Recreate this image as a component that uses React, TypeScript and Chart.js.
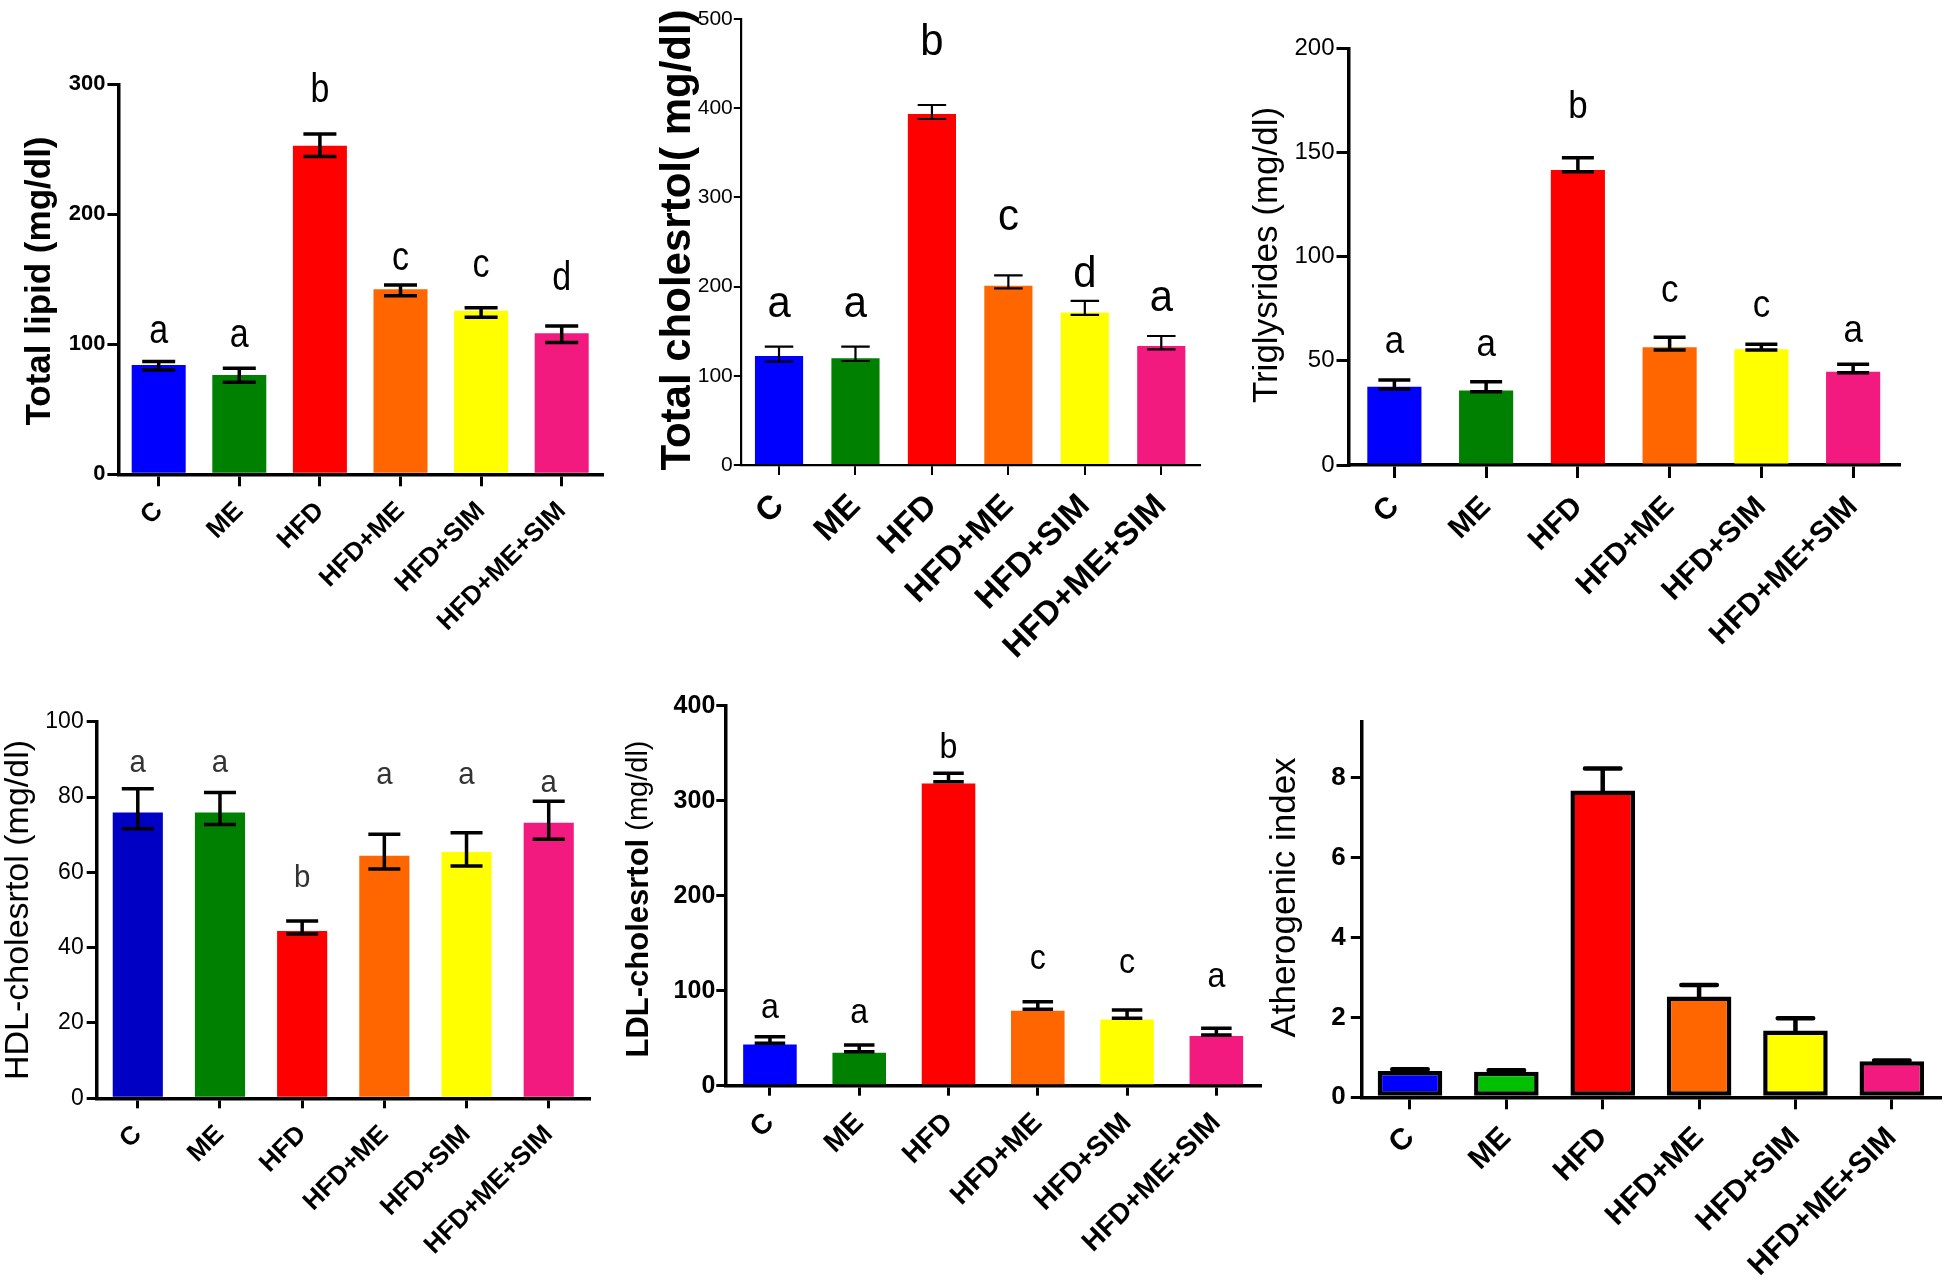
import React, { useEffect, useRef } from 'react';
import { Chart, registerables } from 'chart.js';

Chart.register(...registerables);

// ---------------- DATA ----------------
const groups = ['C', 'ME', 'HFD', 'HFD+ME', 'HFD+SIM', 'HFD+ME+SIM'];

// Total lipid (mg/dl)
const lipidMean = [84.1, 76.4, 252.8, 142.3, 125.9, 108.5];
const lipidHi = [86.7, 81.5, 261.8, 145.6, 128.2, 114.1];
const lipidLo = [80.3, 70.8, 244.4, 137.4, 120.8, 101.3];
const lipidLetters = ['a', 'a', 'b', 'c', 'c', 'd'];
const lipidLetterAt = [100.8, 98.2, 286.7, 157, 152, 141.8];

// Total cholesterol (mg/dl)
const cholMean = [122.2, 119.6, 393.5, 201, 171.1, 133.4];
const cholHi = [132.7, 132.7, 403.6, 212.6, 183.9, 144.6];
const cholLo = [115.8, 116.6, 387.9, 198.1, 168.2, 129.7];
const cholLetters = ['a', 'a', 'b', 'c', 'd', 'a'];
const cholLetterAt = [166.3, 166.3, 459.6, 263.5, 199.2, 173];

// Triglycerides (mg/dl)
const tgMean = [37.6, 35.7, 141.6, 56.5, 55.5, 44.8];
const tgHi = [40.8, 40, 147.5, 61.3, 58, 48.3];
const tgLo = [36.5, 35.2, 140.8, 55.2, 55.2, 44.3];
const tgLetters = ['a', 'a', 'b', 'c', 'c', 'a'];
const tgLetterAt = [53.6, 52.3, 166.4, 78.4, 71.2, 59.2];

// HDL-cholesterol (mg/dl)
const hdlMean = [75.9, 75.9, 44.4, 64.4, 65.4, 73.2];
const hdlHi = [82.2, 81.2, 47.1, 70.1, 70.5, 78.9];
const hdlLo = [71.6, 72.7, 43.6, 60.9, 61.7, 68.8];
const hdlLetters = ['a', 'a', 'b', 'a', 'a', 'a'];
const hdlLetterAt = [86.7, 86.7, 56.2, 83.4, 83.4, 81.4];

// LDL-cholesterol (mg/dl)
const ldlMean = [43.5, 34.7, 318.2, 78.9, 69.8, 52.3];
const ldlHi = [51.6, 42.8, 328.8, 88.4, 79.6, 60.4];
const ldlLo = [44.6, 35.8, 320, 80.4, 70.9, 53.3];
const ldlLetters = ['a', 'a', 'b', 'c', 'c', 'a'];
const ldlLetterAt = [70.9, 65.6, 344.6, 122.5, 118.2, 104.2];

// Atherogenic index
const aiMean = [0.66, 0.64, 7.68, 2.52, 1.67, 0.9];
const aiHi = [0.7, 0.68, 8.23, 2.81, 1.98, 0.92];

// ---------------- STYLE ----------------
const FONT = "'Liberation Sans', Arial, Helvetica, sans-serif";
const BLUE = '#0000FF';
const GREEN = '#008000';
const RED = '#FF0000';
const ORANGE = '#FF6600';
const YELLOW = '#FFFF00';
const PINK = '#F2197F';
const baseColors = [BLUE, GREEN, RED, ORANGE, YELLOW, PINK];

type Run = { text: string; weight: string; size: number };

type PanelCfg = {
  key: string;
  canvas: { left: number; top: number; width: number; height: number };
  area: { left: number; top: number; right: number; bottom: number };
  yMax: number;
  yStep: number;
  includeBounds: boolean;
  values: number[];
  hi: number[];
  lo: number[];
  letters: string[] | null;
  letterAt: number[] | null;
  letterSize: number;
  letterScaleX: number;
  letterColor: string;
  colors: string[];
  barPct: number;
  barBorder: number;
  axisWidth: number;
  tickWidth: number;
  yTickLen: number;
  yTickPad: number;
  xTickLen: number;
  xTickPad: number;
  yFont: { size: number; weight: string };
  xFont: { size: number; weight: string };
  errWidth: number;
  capWidth: number;
  capRound: boolean;
  oneSided: boolean;
  title: { runs: Run[]; x: number; y: number };
};

const panels: PanelCfg[] = [
  {
    key: 'lipid',
    canvas: { left: 0, top: 0, width: 640, height: 665 },
    area: { left: 118.4, top: 84.3, right: 602, bottom: 474.3 },
    yMax: 300, yStep: 100, includeBounds: true,
    values: lipidMean, hi: lipidHi, lo: lipidLo,
    letters: lipidLetters, letterAt: lipidLetterAt, letterSize: 40, letterScaleX: 0.85, letterColor: '#000',
    colors: baseColors, barPct: 0.67, barBorder: 0,
    axisWidth: 3.5, tickWidth: 3, yTickLen: 11, yTickPad: 2, xTickLen: 12, xTickPad: 9.5,
    yFont: { size: 22, weight: 'bold' }, xFont: { size: 26, weight: 'bold' },
    errWidth: 3.5, capWidth: 33, capRound: false, oneSided: false,
    title: { runs: [{ text: 'Total lipid (mg/dl)', weight: 'bold', size: 35 }], x: 40, y: 281 },
  },
  {
    key: 'chol',
    canvas: { left: 640, top: 0, width: 612, height: 680 },
    area: { left: 740.8, top: 19, right: 1199.5, bottom: 465 },
    yMax: 500, yStep: 100, includeBounds: true,
    values: cholMean, hi: cholHi, lo: cholLo,
    letters: cholLetters, letterAt: cholLetterAt, letterSize: 44, letterScaleX: 0.95, letterColor: '#000',
    colors: baseColors, barPct: 0.63, barBorder: 0,
    axisWidth: 2.2, tickWidth: 2, yTickLen: 7, yTickPad: 1, xTickLen: 10, xTickPad: 12,
    yFont: { size: 21, weight: 'normal' }, xFont: { size: 33, weight: 'bold' },
    errWidth: 2.2, capWidth: 28.5, capRound: false, oneSided: false,
    title: { runs: [{ text: 'Total cholesrtol( mg/dl)', weight: 'bold', size: 42 }], x: 678, y: 240 },
  },
  {
    key: 'tg',
    canvas: { left: 1252, top: 0, width: 694, height: 680 },
    area: { left: 1348.5, top: 48.3, right: 1899, bottom: 465 },
    yMax: 200, yStep: 50, includeBounds: true,
    values: tgMean, hi: tgHi, lo: tgLo,
    letters: tgLetters, letterAt: tgLetterAt, letterSize: 38, letterScaleX: 0.92, letterColor: '#000',
    colors: baseColors, barPct: 0.59, barBorder: 0,
    axisWidth: 3.5, tickWidth: 3, yTickLen: 12, yTickPad: 2, xTickLen: 13, xTickPad: 11.5,
    yFont: { size: 24, weight: 'normal' }, xFont: { size: 30, weight: 'bold' },
    errWidth: 3.5, capWidth: 32, capRound: false, oneSided: false,
    title: { runs: [{ text: 'Triglysrides (mg/dl)', weight: 'normal', size: 35 }], x: 1267, y: 255 },
  },
  {
    key: 'hdl',
    canvas: { left: 0, top: 680, width: 620, height: 601 },
    area: { left: 96.7, top: 721.7, right: 589.8, bottom: 1098.3 },
    yMax: 100, yStep: 20, includeBounds: true,
    values: hdlMean, hi: hdlHi, lo: hdlLo,
    letters: hdlLetters, letterAt: hdlLetterAt, letterSize: 32, letterScaleX: 0.92, letterColor: '#333',
    colors: ['#0000C4', GREEN, RED, ORANGE, YELLOW, PINK], barPct: 0.61, barBorder: 0,
    axisWidth: 3.5, tickWidth: 3, yTickLen: 10, yTickPad: 3, xTickLen: 10, xTickPad: 11,
    yFont: { size: 23, weight: 'normal' }, xFont: { size: 26, weight: 'bold' },
    errWidth: 3.5, capWidth: 32, capRound: false, oneSided: false,
    title: { runs: [{ text: 'HDL-cholesrtol (mg/dl)', weight: 'normal', size: 34 }], x: 19, y: 910 },
  },
  {
    key: 'ldl',
    canvas: { left: 620, top: 680, width: 642, height: 601 },
    area: { left: 725.3, top: 705.7, right: 1261, bottom: 1085.7 },
    yMax: 400, yStep: 100, includeBounds: true,
    values: ldlMean, hi: ldlHi, lo: ldlLo,
    letters: ldlLetters, letterAt: ldlLetterAt, letterSize: 35, letterScaleX: 0.92, letterColor: '#000',
    colors: baseColors, barPct: 0.6, barBorder: 0,
    axisWidth: 3.5, tickWidth: 3, yTickLen: 9, yTickPad: 1, xTickLen: 10, xTickPad: 11,
    yFont: { size: 25, weight: 'bold' }, xFont: { size: 28, weight: 'bold' },
    errWidth: 3.5, capWidth: 30.5, capRound: false, oneSided: false,
    title: {
      runs: [
        { text: 'LDL-cholesrtol', weight: 'bold', size: 31 },
        { text: ' (mg/dl)', weight: 'normal', size: 29 },
      ],
      x: 639, y: 899,
    },
  },
  {
    key: 'ai',
    canvas: { left: 1262, top: 680, width: 684, height: 601 },
    area: { left: 1361.8, top: 721.7, right: 1940, bottom: 1097.3 },
    yMax: 9.4, yStep: 2, includeBounds: false,
    values: aiMean, hi: aiHi, lo: aiMean,
    letters: null, letterAt: null, letterSize: 30, letterScaleX: 1, letterColor: '#000',
    colors: [BLUE, '#00C000', RED, ORANGE, YELLOW, PINK], barPct: 0.67, barBorder: 4.5,
    axisWidth: 3.5, tickWidth: 3, yTickLen: 11, yTickPad: 5, xTickLen: 12, xTickPad: 11,
    yFont: { size: 26, weight: 'bold' }, xFont: { size: 30, weight: 'bold' },
    errWidth: 4.5, capWidth: 35.5, capRound: true, oneSided: true,
    title: { runs: [{ text: 'Atherogenic index', weight: 'normal', size: 35 }], x: 1285, y: 897.5 },
  },
];

function extrasPlugin(p: PanelCfg) {
  return {
    id: 'extras_' + p.key,
    afterDatasetsDraw(chart: any) {
      const ctx = chart.ctx;
      const ys = chart.scales.y;
      const meta = chart.getDatasetMeta(0);
      ctx.save();
      ctx.strokeStyle = '#000';
      ctx.lineWidth = p.errWidth;
      ctx.lineCap = p.capRound ? 'round' : 'butt';
      meta.data.forEach((el: any, i: number) => {
        const x = el.x;
        const yh = ys.getPixelForValue(p.hi[i]);
        const yl = ys.getPixelForValue(p.lo[i]);
        const hw = p.capWidth / 2;
        ctx.beginPath();
        ctx.moveTo(x, yl);
        ctx.lineTo(x, yh);
        ctx.moveTo(x - hw, yh);
        ctx.lineTo(x + hw, yh);
        if (!p.oneSided) {
          ctx.moveTo(x - hw, yl);
          ctx.lineTo(x + hw, yl);
        }
        ctx.stroke();
      });
      ctx.restore();
    },
    afterDraw(chart: any) {
      const ctx = chart.ctx;
      const ys = chart.scales.y;
      const meta = chart.getDatasetMeta(0);
      ctx.save();
      if (p.letters && p.letterAt) {
        ctx.fillStyle = p.letterColor;
        ctx.font = `normal ${p.letterSize}px ${FONT}`;
        ctx.textAlign = 'center';
        ctx.textBaseline = 'alphabetic';
        meta.data.forEach((el: any, i: number) => {
          ctx.save();
          ctx.translate(el.x, ys.getPixelForValue(p.letterAt![i]));
          ctx.scale(p.letterScaleX, 1);
          ctx.fillText(p.letters![i], 0, 0);
          ctx.restore();
        });
      }
      // rotated y-axis title
      const runs = p.title.runs;
      let total = 0;
      const widths = runs.map((r) => {
        ctx.font = `${r.weight} ${r.size}px ${FONT}`;
        const w = ctx.measureText(r.text).width;
        total += w;
        return w;
      });
      ctx.translate(p.title.x - p.canvas.left, p.title.y - p.canvas.top);
      ctx.rotate(-Math.PI / 2);
      ctx.fillStyle = '#000';
      ctx.textAlign = 'left';
      ctx.textBaseline = 'middle';
      let cx = -total / 2;
      runs.forEach((r, i) => {
        ctx.font = `${r.weight} ${r.size}px ${FONT}`;
        ctx.fillText(r.text, cx, 0);
        cx += widths[i];
      });
      ctx.restore();
    },
  };
}

function Panel({ p }: { p: PanelCfg }) {
  const ref = useRef<HTMLCanvasElement | null>(null);
  useEffect(() => {
    const c = ref.current;
    if (!c) return;
    const chart = new Chart(c, {
      type: 'bar',
      data: {
        labels: groups,
        datasets: [
          {
            data: p.values,
            backgroundColor: p.colors,
            borderColor: '#000',
            borderWidth: p.barBorder,
            borderSkipped: false,
            barPercentage: p.barPct,
            categoryPercentage: 1,
          },
        ],
      },
      options: {
        animation: false,
        responsive: false,
        maintainAspectRatio: false,
        devicePixelRatio: 1,
        events: [],
        layout: {
          padding: {
            left: 0,
            top: p.area.top - p.canvas.top,
            right: p.canvas.left + p.canvas.width - p.area.right,
            bottom: 0,
          },
        },
        plugins: {
          legend: { display: false },
          tooltip: { enabled: false },
          title: { display: false },
        },
        scales: {
          x: {
            type: 'category',
            offset: true,
            grid: {
              display: true,
              drawOnChartArea: false,
              drawTicks: true,
              tickLength: p.xTickLen,
              offset: false,
              color: '#000',
              lineWidth: p.tickWidth,
            },
            border: { display: true, color: '#000', width: p.axisWidth },
            ticks: {
              autoSkip: false,
              maxRotation: 45,
              minRotation: 45,
              padding: p.xTickPad,
              color: '#000',
              font: { family: FONT, size: p.xFont.size, weight: p.xFont.weight },
            },
            afterFit: (s: any) => {
              s.height = p.canvas.top + p.canvas.height - p.area.bottom;
              s.paddingLeft = 0;
              s.paddingRight = 0;
            },
          },
          y: {
            type: 'linear',
            min: 0,
            max: p.yMax,
            grid: {
              display: true,
              drawOnChartArea: false,
              drawTicks: true,
              tickLength: p.yTickLen,
              color: '#000',
              lineWidth: p.tickWidth,
            },
            border: { display: true, color: '#000', width: p.axisWidth },
            ticks: {
              stepSize: p.yStep,
              includeBounds: p.includeBounds,
              padding: p.yTickPad,
              color: '#000',
              font: { family: FONT, size: p.yFont.size, weight: p.yFont.weight },
            },
            afterFit: (s: any) => {
              s.width = p.area.left - p.canvas.left;
              s.paddingTop = 0;
              s.paddingBottom = 0;
            },
          },
        },
      } as any,
      plugins: [extrasPlugin(p) as any],
    });
    return () => chart.destroy();
  }, []);
  return (
    <canvas
      ref={ref}
      width={p.canvas.width}
      height={p.canvas.height}
      style={{
        position: 'absolute',
        left: p.canvas.left,
        top: p.canvas.top,
        width: p.canvas.width,
        height: p.canvas.height,
      }}
    />
  );
}

export default function App() {
  return (
    <div
      style={{
        position: 'absolute',
        left: 0,
        top: 0,
        width: 1946,
        height: 1281,
        background: '#fff',
        overflow: 'hidden',
      }}
    >
      {panels.map((p) => (
        <Panel key={p.key} p={p} />
      ))}
    </div>
  );
}
